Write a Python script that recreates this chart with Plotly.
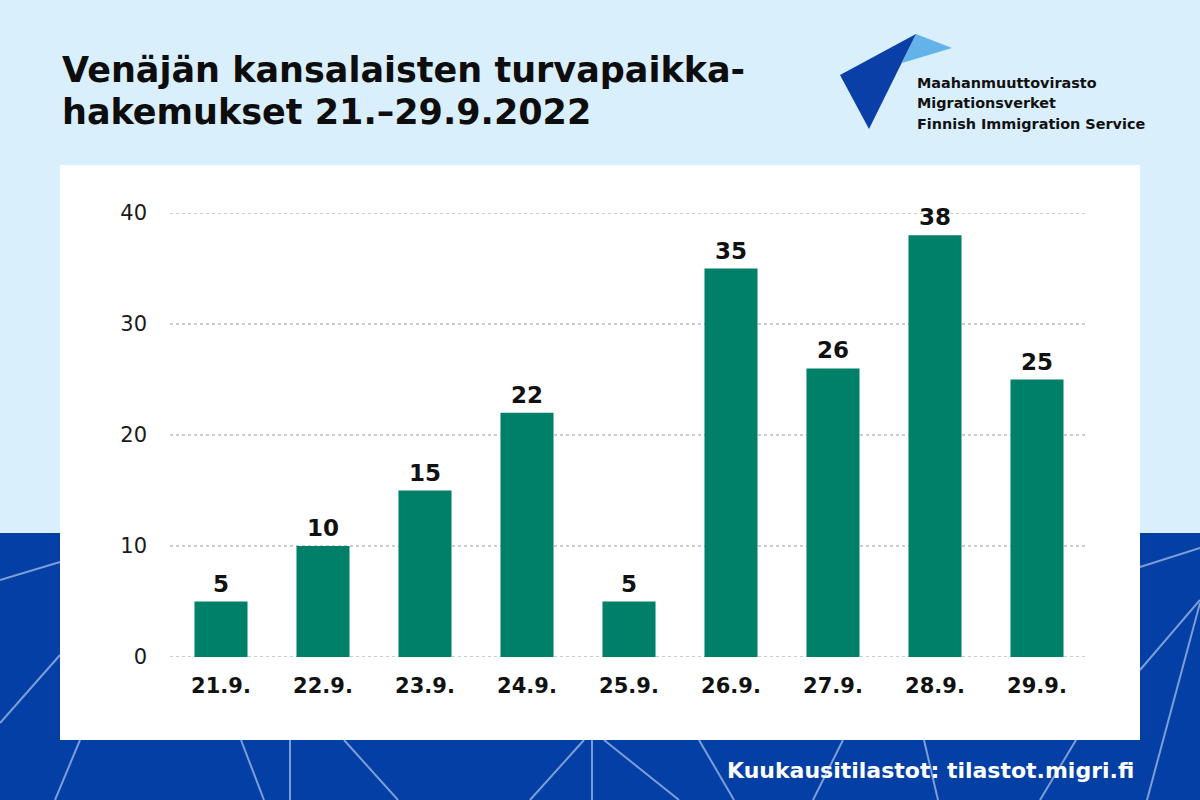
import plotly.graph_objects as go

# ---- data ----
dates = ["21.9.", "22.9.", "23.9.", "24.9.", "25.9.", "26.9.", "27.9.", "28.9.", "29.9."]
applications = [5, 10, 15, 22, 5, 35, 26, 38, 25]
y_ticks = [0, 10, 20, 30, 40]

title_line1 = "Venäjän kansalaisten turvapaikka-"
title_line2 = "hakemukset 21.–29.9.2022"
logo_lines = ["Maahanmuuttovirasto", "Migrationsverket", "Finnish Immigration Service"]
footer = "Kuukausitilastot: tilastot.migri.fi"

# ---- geometry ----
W, H = 1200, 800
L, R, T, B = 170, 112, 213, 143
PW, PH = W - L - R, H - T - B


def px(x):
    return (x - L) / PW


def py(y):
    return (H - B - y) / PH


LIGHT_BG = "#daeffc"
DARK_BG = "#033fa5"
LINE_C = "#7d9dd8"
BAR_C = "#008069"
GRID_C = "#bdbdbd"
FONT = "DejaVu Sans"

fig = go.Figure()
fig.add_trace(go.Bar(
    x=dates, y=applications,
    marker=dict(color=BAR_C, line=dict(width=0)),
    width=0.52,
    hoverinfo="skip",
))

shapes = []
# dark lower band
shapes.append(dict(type="rect", xref="paper", yref="paper", layer="below",
                   x0=px(0), x1=px(W), y0=py(533), y1=py(H),
                   fillcolor=DARK_BG, line=dict(width=0)))
# decorative lines
deco = [
    ((0, 580), (60, 562)), ((0, 723), (60, 655)), ((80, 740), (55, 800)),
    ((241, 740), (264, 800)), ((290, 740), (290, 800)), ((344, 740), (398, 800)),
    ((584, 740), (530, 800)), ((592, 740), (592, 800)), ((604, 740), (679, 800)),
    ((699, 740), (734, 800)), ((843, 740), (813, 800)), ((924, 740), (938, 800)),
    ((1076, 740), (1040, 800)), ((1140, 567), (1200, 548)), ((1140, 670), (1200, 600)),
    ((1200, 603), (1147, 800)),
]
for (x0, y0), (x1, y1) in deco:
    shapes.append(dict(type="line", xref="paper", yref="paper", layer="below",
                       x0=px(x0), y0=py(y0), x1=px(x1), y1=py(y1),
                       line=dict(color=LINE_C, width=2)))
# white panel
shapes.append(dict(type="rect", xref="paper", yref="paper", layer="below",
                   x0=px(60), x1=px(1140), y0=py(165), y1=py(740),
                   fillcolor="white", line=dict(width=0)))
# dotted gridlines at every y tick
for v in y_ticks:
    shapes.append(dict(type="line", xref="paper", yref="y", layer="below",
                       x0=0, x1=1, y0=v, y1=v,
                       line=dict(color=GRID_C, width=1.5, dash="dot")))


def tri(pts, color):
    d = "M " + " L ".join(f"{px(a)},{py(b)}" for a, b in pts) + " Z"
    return dict(type="path", xref="paper", yref="paper", path=d,
                fillcolor=color, line=dict(width=0))


shapes.append(tri([(916, 34), (952, 48), (902, 63)], "#64b2ea"))
shapes.append(tri([(840, 75), (916, 34), (869, 129)], "#0a3fa8"))

annotations = [
    dict(text=title_line1, x=px(60), y=py(70), xanchor="left", yanchor="middle",
         font=dict(family=FONT, size=35, color="#0d0d0d", weight="bold")),
    dict(text=title_line2, x=px(60), y=py(112), xanchor="left", yanchor="middle",
         font=dict(family=FONT, size=35, color="#0d0d0d", weight="bold")),
    dict(text=footer, x=px(1136), y=py(770), xanchor="right", yanchor="middle",
         font=dict(family=FONT, size=22, color="white", weight="bold")),
]
for i, t in enumerate(logo_lines):
    annotations.append(dict(text=t, x=px(915), y=py(83 + i * 20.5), xanchor="left", yanchor="middle",
                            font=dict(family=FONT, size=14.4, color="#111111", weight="bold")))
for a in annotations:
    a.update(xref="paper", yref="paper", showarrow=False)

# value labels above bars (data coordinates)
for d, v in zip(dates, applications):
    annotations.append(dict(text=str(v), x=d, y=v, xref="x", yref="y",
                            xanchor="center", yanchor="bottom", yshift=3, showarrow=False,
                            font=dict(family=FONT, size=23, color="#111111", weight="bold")))

fig.update_layout(
    width=W, height=H,
    margin=dict(l=L, r=R, t=T, b=B, pad=0),
    paper_bgcolor=LIGHT_BG, plot_bgcolor="rgba(0,0,0,0)",
    shapes=shapes, annotations=annotations,
    showlegend=False, bargap=0.48,
    xaxis=dict(
        type="category", range=[-0.5, len(dates) - 0.5],
        showgrid=False, showline=False, zeroline=False, ticks="",
        tickfont=dict(family=FONT, size=21, color="#111111", weight="bold"),
        ticklabelstandoff=14,
    ),
    yaxis=dict(
        range=[0, 40], tickvals=y_ticks, ticktext=[str(v) for v in y_ticks],
        showgrid=False, zeroline=False, showline=False, ticks="",
        tickfont=dict(family=FONT, size=21, color="#1a1a1a"),
        ticklabelstandoff=22,
    ),
)

fig.write_html("out.html")
